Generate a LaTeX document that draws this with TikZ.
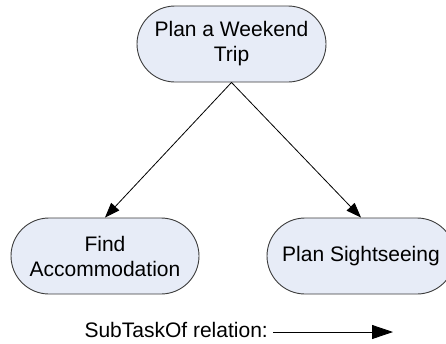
\documentclass[tikz,border=0pt]{standalone}
\usepackage{fontspec}
\setmainfont{Liberation Sans}
\usetikzlibrary{arrows.meta,shapes.misc}
\definecolor{taskfill}{HTML}{E7ECF7}
\definecolor{taskline}{HTML}{3C3C3C}
\begin{document}
\begin{tikzpicture}[x=1pt,y=-1pt,
  task/.style={rounded rectangle, draw=taskline, line width=0.9pt, fill=taskfill,
    minimum height=76pt, minimum width=188pt, inner sep=0pt, align=center,
    font=\fontsize{21}{25}\selectfont},
  rel/.style={-{Triangle[length=15pt,width=11pt]}, line width=0.8pt},
  legrel/.style={-{Triangle[length=21pt,width=14pt]}, line width=0.8pt},
  legtext/.style={font=\fontsize{21}{25}\selectfont, inner sep=0pt}]
\useasboundingbox (0,0) rectangle (446,343);
\clip (0,0) rectangle (446,343);
\node[task, minimum width=189pt] (top) at (231.5,44) {Plan a Weekend\\Trip};
\node[task] (left) at (105,256) {Find\\Accommodation};
\node[task] (right) at (361,256) {Plan Sightseeing};
\draw[rel] (top.south) -- (left.north);
\draw[rel] (top.south) -- (right.north);
\node[legtext, anchor=base east] (leg) at (268,337) {SubTaskOf relation:};
\coordinate (la) at (273,332);
\coordinate (lb) at (393,332);
\draw[legrel] (la) -- (lb);
\end{tikzpicture}
\end{document}
